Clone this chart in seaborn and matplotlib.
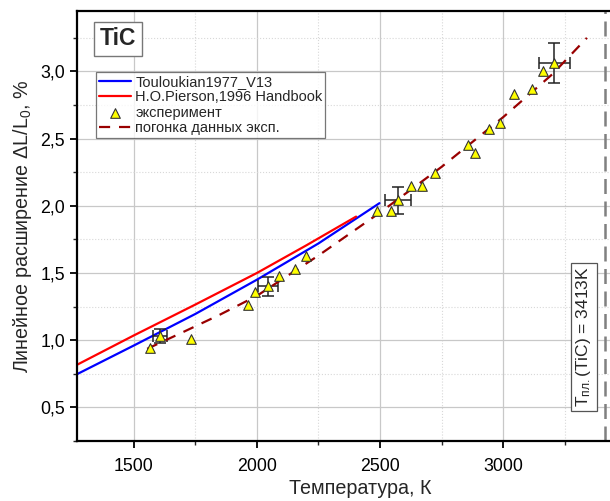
import numpy as np
import pandas as pd
import matplotlib
matplotlib.use("Agg")
import matplotlib.pyplot as plt
from matplotlib.ticker import MultipleLocator, FuncFormatter
import seaborn as sns

# Touloukian1977_V13
t_touloukian = [1273, 1500, 1750, 2000, 2250, 2498]
v_touloukian = [0.75, 0.96, 1.195, 1.45, 1.72, 2.02]

# H.O.Pierson, 1996 Handbook
t_pierson = [1273, 1500, 1750, 2000, 2200, 2403]
v_pierson = [0.82, 1.035, 1.265, 1.50, 1.705, 1.92]

# experiment
t_exp = [1566, 1607, 1731, 1964, 1993, 2046, 2091, 2153, 2198, 2488, 2543, 2573,
         2626, 2672, 2722, 2856, 2884, 2942, 2986, 3046, 3119, 3160, 3208]
v_exp = [0.94, 1.03, 1.01, 1.265, 1.36, 1.40, 1.48, 1.53, 1.63, 1.96, 1.965, 2.04,
         2.15, 2.145, 2.245, 2.455, 2.39, 2.57, 2.62, 2.83, 2.87, 3.00, 3.065]

# error bars for a few points
t_err = [1607, 2046, 2573, 3208]
v_err = [1.03, 1.40, 2.04, 3.065]
xerr = [30, 42, 51, 63]
yerr = [0.05, 0.07, 0.10, 0.15]

# fit of experimental data
t_fit = [1555, 1700, 1850, 2000, 2250, 2500, 2750, 3000, 3200, 3340]
v_fit = [0.936, 1.06, 1.19, 1.33, 1.63, 1.95, 2.29, 2.66, 2.98, 3.25]

t_melt = 3413

sns.set_theme(style="ticks")
plt.rcParams['font.family'] = ['Liberation Sans', 'DejaVu Sans']
plt.rcParams['mathtext.fontset'] = 'custom'
plt.rcParams['mathtext.rm'] = 'Liberation Sans'
plt.rcParams['mathtext.it'] = 'Liberation Sans:italic'

fig = plt.figure(figsize=(6.1, 5.01), dpi=100)
ax = fig.add_axes([77 / 610, 1 - 441 / 501, 537 / 610, 430 / 501])

ax.grid(True, which='major', color='#c8c8c8', lw=0.9, ls='-')
ax.grid(True, which='minor', color='#d8d8d8', lw=0.8, ls=':')
ax.set_axisbelow(True)

sns.lineplot(x=t_touloukian, y=v_touloukian, ax=ax, color='#0000ff', lw=1.6,
             sort=False, label='Touloukian1977_V13')
sns.lineplot(x=t_pierson, y=v_pierson, ax=ax, color='#ff0000', lw=1.6,
             sort=False, label='H.O.Pierson,1996 Handbook')
ax.errorbar(t_err, v_err, xerr=xerr, yerr=yerr, fmt='none', ecolor='#222222',
            elinewidth=1.1, capsize=4, capthick=1.1, zorder=3)
sns.scatterplot(x=t_exp, y=v_exp, ax=ax, marker='^', s=48, color='#ffff00',
                edgecolor='#333333', linewidth=0.8, zorder=4, label='эксперимент')
ax.plot(t_fit, v_fit, color='#990000', lw=1.6, dashes=(5, 4),
        label='погонка данных эксп.', zorder=3)

ax.axvline(t_melt, color='#808080', lw=1.8, dashes=(6, 3))

ax.set_xlim(1270, 3450)
ax.set_ylim(0.25, 3.45)
ax.xaxis.set_major_locator(MultipleLocator(500))
ax.xaxis.set_minor_locator(MultipleLocator(250))
ax.yaxis.set_major_locator(MultipleLocator(0.5))
ax.yaxis.set_minor_locator(MultipleLocator(0.25))
ax.yaxis.set_major_formatter(FuncFormatter(lambda v, p: f'{v:.1f}'.replace('.', ',')))

ax.tick_params(which='major', direction='out', length=5, width=1.3, labelsize=12.8,
               colors='black')
ax.tick_params(axis='x', which='major', pad=7)
ax.tick_params(which='minor', direction='out', length=3, width=1.0)
for side in ['left', 'bottom', 'top', 'right']:
    ax.spines[side].set_linewidth(1.6)
    ax.spines[side].set_color('black')

ax.set_xlabel('Температура, К', fontsize=14.2, labelpad=3, x=0.527)
ax.set_ylabel('Линейное расширение ΔL/L$_0$, %', fontsize=14.2, labelpad=5)

leg = ax.legend(loc='upper left', bbox_to_anchor=(0.035, 0.858), borderaxespad=0,
                fontsize=10.5, frameon=True, fancybox=False, handlelength=2.2,
                handletextpad=0.3, labelspacing=0.1, borderpad=0.2)
leg.get_frame().set_edgecolor('#555555')
leg.get_frame().set_linewidth(0.9)

ax.text(0.0764, 0.935, 'TiC', transform=ax.transAxes, fontsize=16.5, fontweight='bold',
        ha='center', va='center',
        bbox=dict(boxstyle='square,pad=0.25', fc='white', ec='#777777', lw=1.0))

ax.text(0.944, 0.242, 'T$_{\\mathrm{пл.}}$(TiC) = 3413K', transform=ax.transAxes,
        fontsize=12.5, rotation=90, ha='center', va='center',
        bbox=dict(boxstyle='square,pad=0.2', fc='white', ec='#555555', lw=0.9))

fig.savefig('out.png', dpi=100)
